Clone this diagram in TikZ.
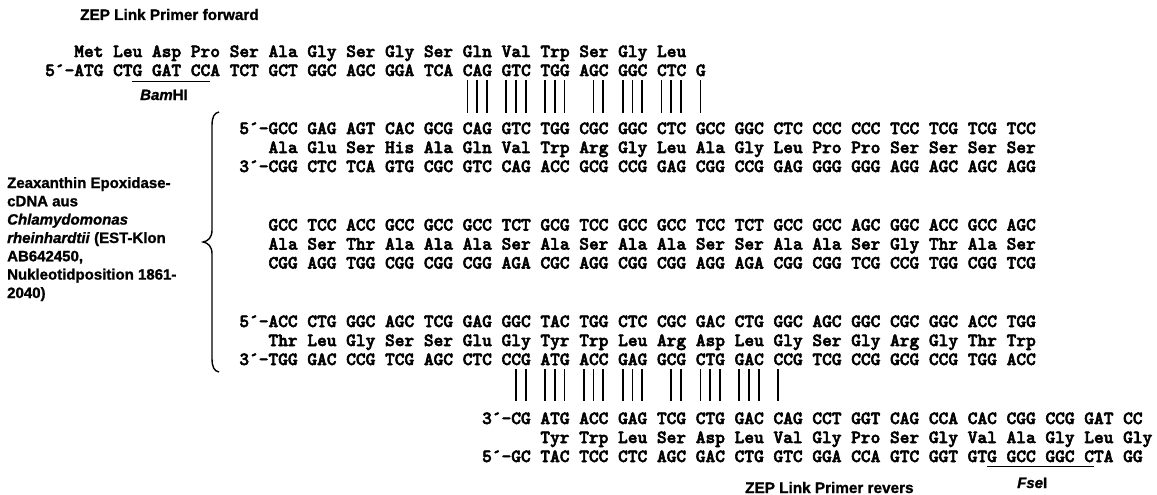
\documentclass[tikz,border=0pt]{standalone}
\usepackage{fontspec}
\newfontfamily\labfam{Liberation Sans}[FakeBold=1.2]
\newfontfamily\seqfam{lmmonolt10-bold}[Extension=.otf,FakeBold=3]
\newcommand\seqf{\seqfam\fontsize{18.5}{20}\selectfont}
\newcommand\labf{\labfam\bfseries\fontsize{15}{18}\selectfont}
\newcommand\titf{\labfam\bfseries\fontsize{15.3}{18}\selectfont}
\begin{document}
\begin{tikzpicture}[x=1pt,y=-1pt,
  seq/.style={anchor=base west,inner sep=0pt,font=\seqf},
  lab/.style={anchor=base west,inner sep=0pt,font=\labf},
  tit/.style={anchor=base west,inner sep=0pt,font=\titf},
  pair/.style={line width=1.7pt},
  uline/.style={line width=0.9pt},
  bracestyle/.style={line width=1.4pt}]
\useasboundingbox (0,0) rectangle (1157,495);
\def\cw{9.71}
\def\xA{45}
\def\xB{239.2}
\def\xC{481.95}
% ---------- top: forward primer ----------
\node[tit] (tf) at (80,20) {ZEP Link Primer forward};
\node[seq] (aa1) at ({\xA+3*\cw},57) {Met Leu Asp Pro Ser Ala Gly Ser Gly Ser Gln Val Trp Ser Gly Leu};
\node[seq] (s1) at (\xA,76) {5´—ATG CTG GAT CCA TCT GCT GGC AGC GGA TCA CAG GTC TGG AGC GGC CTC G};
\draw[uline] ({\xA+9*\cw},81) -- ({\xA+17*\cw},81);
\node[lab] (bam) at (140,100) {\textit{Bam}HI};
\foreach \c in {43,44,45,47,48,49,51,52,53,56,57,59,60,61,63,64,65,67}
  \draw[pair] ({\xA+(\c+0.5)*\cw},80) -- ({\xA+(\c+0.5)*\cw},113);
% ---------- block 2 ----------
\node[seq] (b2s) at (\xB,134) {5´—GCC GAG AGT CAC GCG CAG GTC TGG CGC GGC CTC GCC GGC CTC CCC CCC TCC TCG TCG TCC};
\node[seq] (b2a) at ({\xB+3*\cw},153) {Ala Glu Ser His Ala Gln Val Trp Arg Gly Leu Ala Gly Leu Pro Pro Ser Ser Ser Ser};
\node[seq] (b2c) at (\xB,172) {3´—CGG CTC TCA GTG CGC GTC CAG ACC GCG CCG GAG CGG CCG GAG GGG GGG AGG AGC AGC AGG};
% ---------- block 3 ----------
\node[seq] (b3s) at ({\xB+3*\cw},230.5) {GCC TCC ACC GCC GCC GCC TCT GCG TCC GCC GCC TCC TCT GCC GCC AGC GGC ACC GCC AGC};
\node[seq] (b3a) at ({\xB+3*\cw},249.5) {Ala Ser Thr Ala Ala Ala Ser Ala Ser Ala Ala Ser Ser Ala Ala Ser Gly Thr Ala Ser};
\node[seq] (b3c) at ({\xB+3*\cw},268.5) {CGG AGG TGG CGG CGG CGG AGA CGC AGG CGG CGG AGG AGA CGG CGG TCG CCG TGG CGG TCG};
% ---------- block 4 ----------
\node[seq] (b4s) at (\xB,327) {5´—ACC CTG GGC AGC TCG GAG GGC TAC TGG CTC CGC GAC CTG GGC AGC GGC CGC GGC ACC TGG};
\node[seq] (b4a) at ({\xB+3*\cw},346) {Thr Leu Gly Ser Ser Glu Gly Tyr Trp Leu Arg Asp Leu Gly Ser Gly Arg Gly Thr Trp};
\node[seq] (b4c) at (\xB,365) {3´—TGG GAC CCG TCG AGC CTC CCG ATG ACC GAG GCG CTG GAC CCG TCG CCG GCG CCG TGG ACC};
\foreach \c in {28,29,31,32,33,35,36,37,39,40,41,44,45,47,48,49,51,52,53,55}
  \draw[pair] ({\xB+(\c+0.5)*\cw},369) -- ({\xB+(\c+0.5)*\cw},401);
% ---------- bottom: reverse primer ----------
\node[seq] (b5c) at (\xC,424) {3´—CG ATG ACC GAG TCG CTG GAC CAG CCT GGT CAG CCA CAC CGG CCG GAT CC};
\node[seq] (b5a) at ({\xC+6*\cw},443) {Tyr Trp Leu Ser Asp Leu Val Gly Pro Ser Gly Val Ala Gly Leu Gly};
\node[seq] (b5s) at (\xC,462) {5´—GC TAC TCC CTC AGC GAC CTG GTC GGA CCA GTC GGT GTG GCC GGC CTA GG};
\draw[uline] ({\xC+52*\cw},466) -- ({\xC+63*\cw},466);
\node[lab] (fse) at (1017,488) {\textit{Fse}I};
\node[tit] (tr) at (745,493) {ZEP Link Primer revers};
% ---------- brace ----------
\draw[bracestyle] (219,112) .. controls (214,113) and (212,117) .. (212,126)
  -- (212,230) .. controls (212,238) and (208,241) .. (203,242)
  .. controls (208,243) and (212,246) .. (212,254)
  -- (212,358) .. controls (212,367) and (214,371) .. (219,372);
% ---------- left description ----------
\node[lab] (l1) at (7,188) {Zeaxanthin Epoxidase-};
\node[lab] (l2) at (7,206.3) {cDNA aus};
\node[lab] (l3) at (7,224.6) {\textit{Chlamydomonas}};
\node[lab] (l4) at (7,243) {\textit{rheinhardtii} (EST-Klon};
\node[lab] (l5) at (7,261.3) {AB642450,};
\node[lab] (l6) at (7,279.6) {Nukleotidposition 1861-};
\node[lab] (l7) at (7,298) {2040)};
\end{tikzpicture}
\end{document}
